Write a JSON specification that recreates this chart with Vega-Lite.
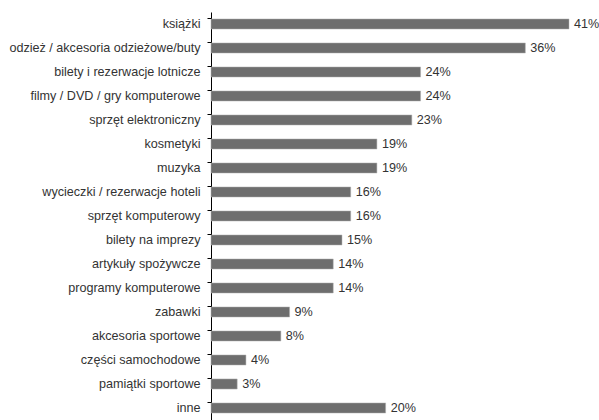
{
  "$schema": "https://vega.github.io/schema/vega-lite/v6.json",
  "autosize": "none",
  "padding": {"left": 211, "top": 12, "right": 30, "bottom": 0},
  "width": 358,
  "height": 408,
  "background": "white",
  "config": {"view": {"stroke": null}, "font": "Liberation Sans"},
  "data": {
    "values": [
      {"kategoria": "książki", "procent": 0.41},
      {"kategoria": "odzież / akcesoria odzieżowe/buty", "procent": 0.36},
      {"kategoria": "bilety i rezerwacje lotnicze", "procent": 0.24},
      {"kategoria": "filmy / DVD / gry komputerowe", "procent": 0.24},
      {"kategoria": "sprzęt elektroniczny ", "procent": 0.23},
      {"kategoria": "kosmetyki", "procent": 0.19},
      {"kategoria": "muzyka", "procent": 0.19},
      {"kategoria": "wycieczki / rezerwacje hoteli", "procent": 0.16},
      {"kategoria": "sprzęt komputerowy", "procent": 0.16},
      {"kategoria": "bilety na imprezy", "procent": 0.15},
      {"kategoria": "artykuły spożywcze", "procent": 0.14},
      {"kategoria": "programy komputerowe", "procent": 0.14},
      {"kategoria": "zabawki", "procent": 0.09},
      {"kategoria": "akcesoria sportowe", "procent": 0.08},
      {"kategoria": "części samochodowe", "procent": 0.04},
      {"kategoria": "pamiątki sportowe", "procent": 0.03},
      {"kategoria": "inne", "procent": 0.20}
    ]
  },
  "encoding": {
    "y": {
      "field": "kategoria",
      "type": "nominal",
      "sort": null,
      "scale": {"paddingInner": 0.58, "paddingOuter": 0.29},
      "axis": {
        "title": null,
        "domainColor": "#000000",
        "tickColor": "#000000",
        "tickSize": 4,
        "bandPosition": 0,
        "labelFontSize": 12.6,
        "labelColor": "#333333",
        "labelPadding": 7,
        "labelLimit": 260,
        "labelFont": "Liberation Sans"
      }
    },
    "x": {
      "field": "procent",
      "type": "quantitative",
      "scale": {"domain": [0, 0.41], "nice": false},
      "axis": null
    }
  },
  "layer": [
    {"mark": {"type": "bar", "color": "#6e6e6e", "stroke": "#b0b0b0", "strokeWidth": 0.5}},
    {
      "mark": {"type": "text", "align": "left", "dx": 5, "fontSize": 12.6, "color": "#333333", "font": "Liberation Sans"},
      "encoding": {"text": {"field": "procent", "type": "quantitative", "format": ".0%"}}
    }
  ]
}
